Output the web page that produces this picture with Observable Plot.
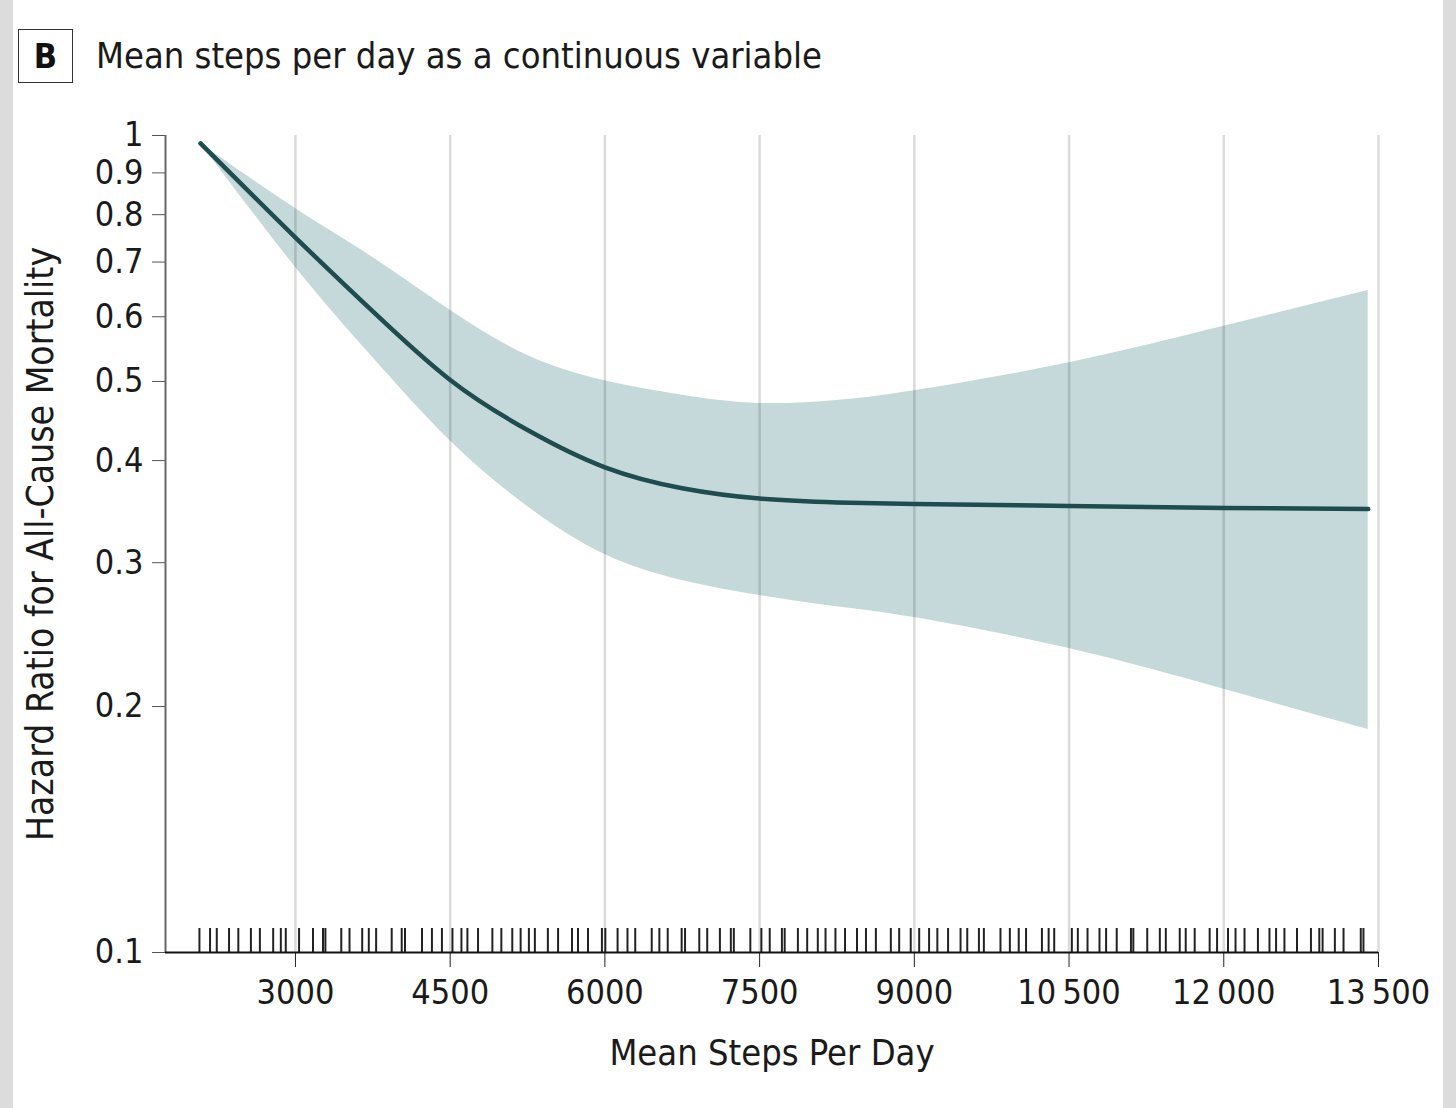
<!DOCTYPE html>
<html>
<head>
<meta charset="utf-8">
<script src="https://cdn.jsdelivr.net/npm/d3@7"></script>
<script src="https://cdn.jsdelivr.net/npm/@observablehq/plot@0.6"></script>
<style>
  html, body { margin: 0; padding: 0; background: #fff; }
  body { width: 1456px; height: 1108px; position: relative; overflow: hidden;
         font-family: "DejaVu Sans Condensed", "Liberation Sans Narrow", "Roboto Condensed", Roboto, sans-serif; }
  .strip { position: absolute; top: 0; bottom: 0; width: 13px; background: #dcdcdc; }
  #head { position: relative; height: 100px; }
  #box { position: absolute; left: 18px; top: 29px; width: 53px; height: 52px; border: 1.5px solid #333;
         font-weight: bold; font-size: 34px; display: flex; align-items: center; justify-content: center; color: #111; }
  #title { position: absolute; left: 96px; top: 35px; font-size: 36px; color: #1a1a1a; white-space: nowrap; }
  #chart { position: relative; }
</style>
</head>
<body>
<div class="strip" style="left:0"></div>
<div class="strip" style="right:0"></div>
<div id="head"><div id="box">B</div><div id="title">Mean steps per day as a continuous variable</div></div>
<div id="chart"></div>
<script>
// ---- data ----
const steps = [2080, 3000, 3750, 4500, 5250, 6000, 6750, 7500, 8250, 9000, 10500, 12000, 13400];
const hazardRatio = [0.978, 0.750, 0.609, 0.502, 0.436, 0.3925, 0.370, 0.3594, 0.3555, 0.354, 0.352, 0.350, 0.349];
const lowerCI = [0.978, 0.690, 0.535, 0.423, 0.3515, 0.307, 0.2853, 0.2735, 0.265, 0.257, 0.2355, 0.210, 0.1875];
const upperCI = [0.978, 0.814, 0.709, 0.611, 0.538, 0.501, 0.481, 0.470, 0.474, 0.487, 0.527, 0.584, 0.646];
const rugSteps = [2069, 2172, 2237, 2356, 2446, 2568, 2655, 2784, 2858, 2906, 3035, 3170, 3267, 3290, 3444, 3524,
  3647, 3711, 3782, 3933, 4030, 4062, 4227, 4323, 4420, 4522, 4609, 4667, 4770, 4909, 4996, 5102, 5183, 5263,
  5321, 5447, 5546, 5681, 5739, 5836, 5971, 6004, 6123, 6219, 6294, 6454, 6528, 6609, 6744, 6777, 6915, 6992,
  7115, 7221, 7250, 7410, 7517, 7598, 7716, 7743, 7871, 7961, 8064, 8139, 8235, 8328, 8444, 8531, 8627, 8772,
  8853, 8965, 9047, 9143, 9223, 9327, 9448, 9513, 9626, 9674, 9835, 9926, 10012, 10083, 10237, 10302, 10356,
  10527, 10585, 10679, 10795, 10859, 10962, 11100, 11123, 11258, 11380, 11438, 11573, 11631, 11718, 11863,
  11935, 12041, 12114, 12201, 12331, 12443, 12507, 12588, 12710, 12845, 12926, 12958, 13077, 13161, 13328, 13354];
const xTicks = [3000, 4500, 6000, 7500, 9000, 10500, 12000, 13500];
const yTicks = [0.1, 0.2, 0.3, 0.4, 0.5, 0.6, 0.7, 0.8, 0.9, 1];
const xDomain = [1740, 13500];
const yDomain = [0.1, 1];
const xLabel = "Mean Steps Per Day";
const yLabel = "Hazard Ratio for All-Cause Mortality";

const curve = steps.map((s, i) => ({steps: s, hr: hazardRatio[i], lo: lowerCI[i], hi: upperCI[i]}));
const fmtX = d => d >= 10000 ? String(Math.floor(d / 1000)) + "\u2009" + String(d % 1000).padStart(3, "0") : String(d);

const W = 1456, H = 1008;
const mTop = 35, mBottom = 156, mLeft = 165, mRight = 78;
const FONT = getComputedStyle(document.body).fontFamily;

const chart = Plot.plot({
  width: W, height: H,
  marginTop: mTop, marginBottom: mBottom, marginLeft: mLeft, marginRight: mRight,
  style: {fontFamily: FONT, fontSize: "34px", color: "#1a1a1a", background: "transparent"},
  x: {domain: xDomain},
  y: {type: "log", domain: yDomain},
  marks: [
    Plot.areaY(curve, {x: "steps", y1: "lo", y2: "hi", fill: "#c5d9da", curve: "natural"}),
    Plot.gridX(xTicks, {stroke: "#000", strokeOpacity: 0.14, strokeWidth: 2.5}),
    Plot.lineY(curve, {x: "steps", y: "hr", stroke: "#1f4c4e", strokeWidth: 4.5, curve: "natural"}),
    Plot.ruleX(rugSteps, {stroke: "#222", strokeWidth: 2, insetTop: 793}),
    Plot.axisY(yTicks, {tickFormat: d => String(d), tickSize: 13, tickPadding: 9, stroke: "#555", label: null}),
    Plot.ruleX([xDomain[0]], {stroke: "#666", strokeWidth: 2}),
    Plot.axisX(xTicks, {tickFormat: fmtX, tickSize: 15, tickPadding: 12, stroke: "#222", label: null}),
    Plot.ruleY([yDomain[0]], {stroke: "#111", strokeWidth: 2}),
    Plot.text([yLabel], {frameAnchor: "left", rotate: -90, dx: -124, fontSize: 37, fill: "#1a1a1a", textAnchor: "middle"}),
    Plot.text([xLabel], {frameAnchor: "bottom", dy: 101, fontSize: 36, fill: "#1a1a1a", lineAnchor: "middle"})
  ]
});
document.getElementById("chart").appendChild(chart);
</script>
</body>
</html>
